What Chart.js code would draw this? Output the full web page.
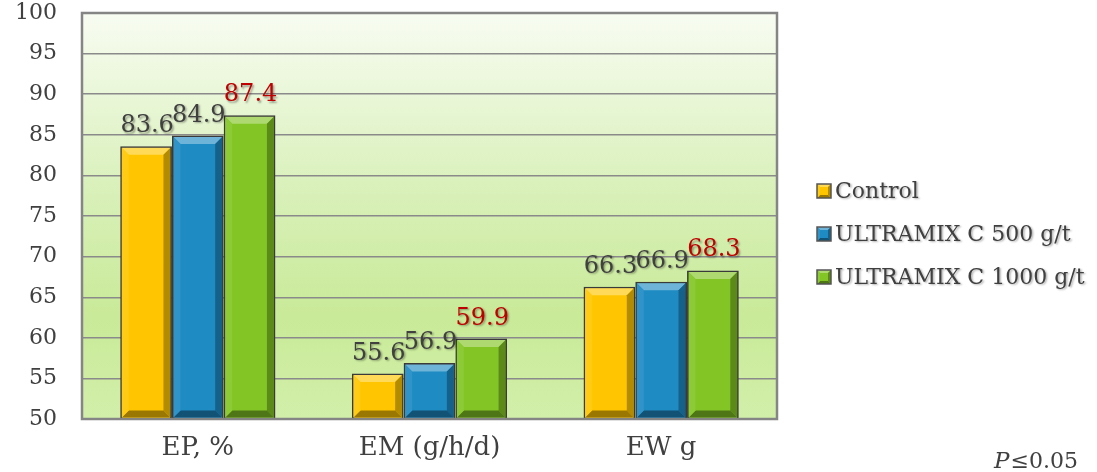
<!DOCTYPE html>
<html>
<head>
<meta charset="utf-8">
<script src="https://cdn.jsdelivr.net/npm/chart.js@4.4.1/dist/chart.umd.min.js"></script>
<style>
  html, body { margin: 0; padding: 0; background: #ffffff; }
  #wrap { width: 1097px; height: 472px; position: relative; }
</style>
</head>
<body>
<div id="wrap"><canvas id="c"></canvas></div>
<script>
// Egg production indicators by treatment
const categories = ['EP, %', 'EM (g/h/d)', 'EW g'];
const controlValues = [83.6, 55.6, 66.3];
const ultramix500Values = [84.9, 56.9, 66.9];
const ultramix1000Values = [87.4, 59.9, 68.3];
const seriesNames = ['Control', 'ULTRAMIX C 500 g/t', 'ULTRAMIX C 1000 g/t'];
const yTicks = [50, 55, 60, 65, 70, 75, 80, 85, 90, 95, 100];

const FONT = '"DejaVu Serif", "Liberation Serif", serif';
const TEXT = '#404040';
const fills = ['#ffc600', '#1e8bc3', '#82c524'];
const labelColors = ['#404040', '#404040', '#c00000'];

function shade(hex, amt) {
  const n = parseInt(hex.slice(1), 16);
  let r = (n >> 16) & 255, g = (n >> 8) & 255, b = n & 255;
  const f = c => Math.max(0, Math.min(255, Math.round(amt < 0 ? c * (1 + amt) : c + (255 - c) * amt)));
  return `rgb(${f(r)},${f(g)},${f(b)})`;
}

// draws a bevelled box (bars and legend swatches)
function bevel(ctx, x0, y0, x1, y1, base, b) {
  ctx.fillStyle = shade(base, 0.35);
  ctx.beginPath();
  ctx.moveTo(x0, y0); ctx.lineTo(x1, y0); ctx.lineTo(x1 - b, y0 + b); ctx.lineTo(x0 + b, y0 + b); ctx.closePath(); ctx.fill();
  ctx.fillStyle = shade(base, -0.3);
  ctx.beginPath();
  ctx.moveTo(x1, y0); ctx.lineTo(x1, y1); ctx.lineTo(x1 - b, y1 - b); ctx.lineTo(x1 - b, y0 + b); ctx.closePath(); ctx.fill();
  ctx.fillStyle = shade(base, -0.4);
  ctx.beginPath();
  ctx.moveTo(x0, y1); ctx.lineTo(x1, y1); ctx.lineTo(x1 - b, y1 - b); ctx.lineTo(x0 + b, y1 - b); ctx.closePath(); ctx.fill();
  ctx.fillStyle = shade(base, 0.08);
  ctx.beginPath();
  ctx.moveTo(x0, y0); ctx.lineTo(x0 + b, y0 + b); ctx.lineTo(x0 + b, y1 - b); ctx.lineTo(x0, y1); ctx.closePath(); ctx.fill();
}

// Plot background gradient, frame, legend and significance note
const plotFrame = {
  id: 'plotFrame',
  beforeDraw(chart) {
    const { ctx, chartArea: a } = chart;
    const g = ctx.createLinearGradient(0, a.top, 0, a.bottom);
    g.addColorStop(0, '#f8fcf2');
    g.addColorStop(0.45, '#d8f0b8');
    g.addColorStop(0.75, '#c9ea98');
    g.addColorStop(1, '#d2efaa');
    ctx.save();
    ctx.fillStyle = g;
    ctx.fillRect(a.left, a.top, a.right - a.left, a.bottom - a.top);
    ctx.restore();
  },
  afterDraw(chart) {
    const { ctx, chartArea: a } = chart;
    ctx.save();
    ctx.strokeStyle = '#858585';
    ctx.lineWidth = 2.5;
    ctx.strokeRect(a.left, a.top, a.right - a.left, a.bottom - a.top);

    // legend
    ctx.font = '22px ' + FONT;
    ctx.textAlign = 'left';
    ctx.textBaseline = 'middle';
    chart.data.datasets.forEach((ds, i) => {
      const cy = 191 + i * 43;
      const bx = 817, s = 14;
      ctx.fillStyle = fills[i];
      ctx.fillRect(bx, cy - s / 2, s, s);
      bevel(ctx, bx, cy - s / 2, bx + s, cy + s / 2, fills[i], 3);
      ctx.strokeStyle = '#555555';
      ctx.lineWidth = 1.5;
      ctx.strokeRect(bx, cy - s / 2, s, s);
      ctx.save();
      ctx.shadowColor = 'rgba(0,0,0,0.3)';
      ctx.shadowOffsetX = 1.5; ctx.shadowOffsetY = 1.5; ctx.shadowBlur = 2;
      ctx.fillStyle = TEXT;
      ctx.fillText(ds.label, 835, cy + 1);
      ctx.restore();
    });

    // significance note
    ctx.fillStyle = TEXT;
    ctx.textBaseline = 'alphabetic';
    ctx.textAlign = 'left';
    ctx.font = 'italic 23px ' + FONT;
    ctx.fillText('P', 994, 468);
    const w = ctx.measureText('P').width;
    ctx.font = '22px ' + FONT;
    ctx.fillText('≤0.05', 994 + w + 1, 468);
    ctx.restore();
  }
};

// Bevelled bar faces and value labels
const bevelBars = {
  id: 'bevelBars',
  afterDatasetsDraw(chart) {
    const { ctx, chartArea: a } = chart;
    chart.data.datasets.forEach((ds, di) => {
      const meta = chart.getDatasetMeta(di);
      meta.data.forEach((bar, i) => {
        const x0 = bar.x - bar.width / 2 + 1.5, x1 = bar.x + bar.width / 2 - 1.5;
        const y0 = bar.y + 1.5, y1 = Math.min(bar.base, a.bottom) - 1.5;
        ctx.save();
        bevel(ctx, x0, y0, x1, y1, fills[di], 7);
        ctx.restore();

        const v = ds.data[i];
        ctx.save();
        ctx.font = '24px ' + FONT;
        ctx.fillStyle = labelColors[di];
        ctx.textAlign = 'center';
        ctx.textBaseline = 'alphabetic';
        ctx.shadowColor = 'rgba(0,0,0,0.35)';
        ctx.shadowOffsetX = 1.5; ctx.shadowOffsetY = 1.5; ctx.shadowBlur = 2;
        ctx.fillText(v.toFixed(1), bar.x + 1, bar.y - 14);
        ctx.restore();
      });
    });
  }
};

const mk = (label, data, i) => ({
  label, data,
  backgroundColor: fills[i],
  borderColor: '#3a3a3a',
  borderWidth: 2,
  borderSkipped: false,
  categoryPercentage: 0.67,
  barPercentage: 1.0
});

new Chart(document.getElementById('c'), {
  type: 'bar',
  data: {
    labels: categories,
    datasets: [
      mk(seriesNames[0], controlValues, 0),
      mk(seriesNames[1], ultramix500Values, 1),
      mk(seriesNames[2], ultramix1000Values, 2)
    ]
  },
  options: {
    responsive: true,
    maintainAspectRatio: false,
    animation: false,
    layout: { padding: { left: 0, right: 320, top: 13, bottom: 0 } },
    plugins: {
      tooltip: { enabled: false },
      legend: { display: false }
    },
    scales: {
      x: {
        grid: { display: false, drawTicks: false },
        border: { display: false },
        ticks: { font: { family: FONT, size: 26 }, color: TEXT, padding: 14 },
        afterFit(s) { s.height = 53; s.paddingLeft = 0; s.paddingRight = 0; }
      },
      y: {
        min: 50, max: 100,
        afterBuildTicks(s) { s.ticks = yTicks.map(v => ({ value: v })); },
        grid: { color: '#8a8a8a', lineWidth: 1.4, drawTicks: false },
        border: { display: false },
        ticks: { font: { family: FONT, size: 22 }, color: TEXT, padding: 25 },
        afterFit(s) { s.width = 82; s.paddingTop = 0; s.paddingBottom = 0; }
      }
    }
  },
  plugins: [plotFrame, bevelBars]
});
</script>
</body>
</html>
